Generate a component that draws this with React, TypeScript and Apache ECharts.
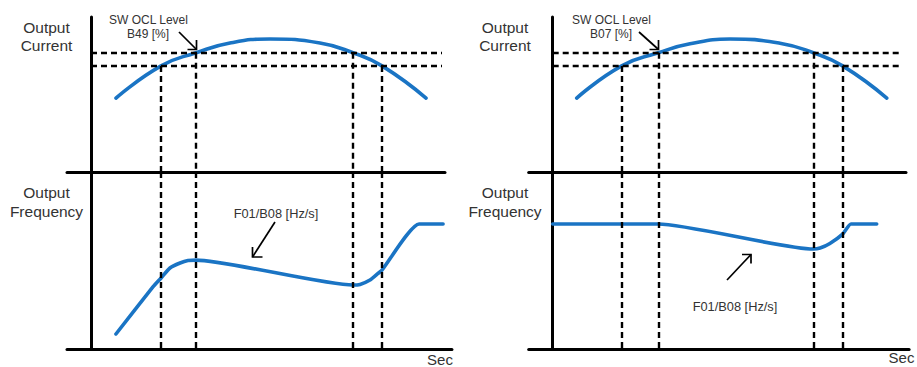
import React, { useEffect, useRef } from "react";
import * as echarts from "echarts";

// ---- data (time in arbitrary seconds, current in %, frequency in Hz) ----
const leftCurrentT = [1.04, 2.92, 4.375, 5.79, 7.46, 9.54, 10.92, 12.125, 13.96];
const leftCurrentA = [62, 89, 100, 108.2, 111.5, 108.2, 100, 89, 62];
const leftFreqT = [1.04, 2.58, 2.92, 3.29, 3.71, 4.04, 4.375, 10.92, 11.21, 11.625, 11.96, 12.125, 13.67, 14.67];
const leftFreqHz = [7.2, 29.8, 34.1, 38.9, 41.3, 42.5, 42.7, 30.7, 31.0, 33.1, 36.3, 37.9, 60, 60];

const rightCurrentT = [1.0, 2.875, 4.4, 5.72, 7.39, 9.47, 10.86, 12.08, 13.92];
const rightCurrentA = [62, 89, 100, 107.5, 111.5, 108, 100, 89, 62];
const rightFreqT = [0, 4.4, 10.86, 11.14, 11.55, 12.08, 12.43, 13.5];
const rightFreqHz = [60, 60, 48, 48.5, 50.7, 55.2, 60, 60];

const levels = [100, 89]; // SW OCL level, lower level
const leftCrossT = [2.92, 4.375, 10.92, 12.125];
const rightCrossT = [2.875, 4.4, 10.86, 12.08];
const crossLevel = [89, 100, 100, 89];
const leftDashEnd = 14.625;
const rightDashEnd = 14.54;

const currentMax = 130;
const freqMax = 85;
const xMin = -1;
const leftTopMax = 14.75;
const leftBottomMax = 15.04;
const rightTopMax = 14.72;
const rightBottomMax = 14.85;

const leftTitles = { top: ["Output", "Current"], bottom: ["Output", "Frequency"] };
const leftOcl = ["SW OCL Level", "B49 [%]"];
const rightOcl = ["SW OCL Level", "B07 [%]"];
const rampLabel = "F01/B08 [Hz/s]";
const secLabel = "Sec";

// ---- layout ----
const PX_PER_T = 24;
const TOP = 17;
const MID = 172;
const BOTTOM = 349;
const LEFT_ORIGIN = 91;
const RIGHT_ORIGIN = 552.7;
const BLUE = "#1a74c4";
const TEXT = "#333";
const FONT = '"Liberation Sans", Arial, sans-serif';

function buildOption() {
  const grids = [
    { left: LEFT_ORIGIN + xMin * PX_PER_T, top: TOP, width: (leftTopMax - xMin) * PX_PER_T, height: MID - TOP },
    { left: LEFT_ORIGIN + xMin * PX_PER_T, top: MID, width: (leftBottomMax - xMin) * PX_PER_T, height: BOTTOM - MID },
    { left: RIGHT_ORIGIN + xMin * PX_PER_T, top: TOP, width: (rightTopMax - xMin) * PX_PER_T, height: MID - TOP },
    { left: RIGHT_ORIGIN + xMin * PX_PER_T, top: MID, width: (rightBottomMax - xMin) * PX_PER_T, height: BOTTOM - MID },
  ];
  const axisLine = { show: true, onZero: true, lineStyle: { color: "#000", width: 3 } };
  const hidden = {
    axisTick: { show: false },
    axisLabel: { show: false },
    splitLine: { show: false },
  };
  const xMaxes = [leftTopMax, leftBottomMax, rightTopMax, rightBottomMax];
  const xAxis = xMaxes.map((mx, i) => ({
    type: "value",
    gridIndex: i,
    min: xMin,
    max: mx,
    axisLine,
    ...hidden,
  }));
  const yAxis = [0, 1, 2, 3].map((i) => ({
    type: "value",
    gridIndex: i,
    min: 0,
    max: i % 2 === 0 ? currentMax : freqMax,
    axisLine,
    ...hidden,
  }));

  const dash = { color: "#000", type: [6, 4], width: 2.4 };
  const ml = (data: any[]) => ({
    silent: true,
    symbol: ["none", "none"],
    label: { show: false },
    lineStyle: dash,
    emphasis: { disabled: true },
    animation: false,
    data,
  });
  const topMarks = (cross: number[], dashEnd: number) => [
    ...levels.map((lv) => [{ coord: [0, lv] }, { coord: [dashEnd, lv] }]),
    ...cross.map((t, k) => [{ coord: [t, crossLevel[k]] }, { coord: [t, 0] }]),
  ];
  const bottomMarks = (cross: number[]) => cross.map((t) => [{ coord: [t, freqMax] }, { coord: [t, 0] }]);

  const line = (idx: number, xs: number[], ys: number[], smooth: number, marks: any[]) => ({
    type: "line",
    xAxisIndex: idx,
    yAxisIndex: idx,
    data: xs.map((x, k) => [x, ys[k]]),
    symbol: "none",
    smooth,
    lineStyle: { color: BLUE, width: 3.6, cap: "round" },
    emphasis: { disabled: true },
    silent: true,
    z: 3,
    markLine: ml(marks),
  });

  const series = [
    line(0, leftCurrentT, leftCurrentA, 0.5, topMarks(leftCrossT, leftDashEnd)),
    line(1, leftFreqT, leftFreqHz, 0.18, bottomMarks(leftCrossT)),
    line(2, rightCurrentT, rightCurrentA, 0.5, topMarks(rightCrossT, rightDashEnd)),
    line(3, rightFreqT, rightFreqHz, 0.18, bottomMarks(rightCrossT)),
  ];

  const txt = (x: number, y: number, text: string, size: number) => ({
    type: "text",
    x,
    y,
    silent: true,
    style: { text, fill: TEXT, fontSize: size, fontFamily: FONT, align: "center", verticalAlign: "middle" },
  });
  const arrow = (x0: number, y0: number, x1: number, y1: number, w1: number[], w2: number[]) => [
    { type: "polyline", silent: true, shape: { points: [[x0, y0], [x1, y1]] }, style: { stroke: "#000", lineWidth: 1.7, fill: null } },
    { type: "polyline", silent: true, shape: { points: [w1, [x1, y1], w2] }, style: { stroke: "#000", lineWidth: 1.7, fill: null } },
  ];

  const graphic = [
    txt(46.5, 27, leftTitles.top[0], 15.5),
    txt(46.5, 45, leftTitles.top[1], 15.5),
    txt(46.5, 192, leftTitles.bottom[0], 15.5),
    txt(46.5, 211, leftTitles.bottom[1], 15.5),
    txt(505, 27, leftTitles.top[0], 15.5),
    txt(505, 45, leftTitles.top[1], 15.5),
    txt(505, 192, leftTitles.bottom[0], 15.5),
    txt(505, 211, leftTitles.bottom[1], 15.5),
    txt(148.5, 19.5, leftOcl[0], 12),
    txt(148, 33.5, leftOcl[1], 12),
    txt(611.5, 19.5, rightOcl[0], 12),
    txt(611, 33.5, rightOcl[1], 12),
    txt(276, 213, rampLabel, 12.8),
    txt(735, 306, rampLabel, 12.8),
    txt(440, 359, secLabel, 15),
    txt(901.5, 357, secLabel, 15),
    ...arrow(179, 32, 196.5, 49.5, [196.5, 40], [187.5, 49.5]),
    ...arrow(639, 32, 658.5, 49.5, [658.5, 40], [649.5, 49.5]),
    ...arrow(275, 222, 252.5, 257, [252.5, 247], [262.5, 257]),
    ...arrow(727, 280, 751, 254.5, [742, 254.5], [751, 263.5]),
  ];

  return {
    animation: false,
    backgroundColor: "#fff",
    grid: grids,
    xAxis,
    yAxis,
    series,
    graphic,
  };
}

export default function App() {
  const ref = useRef<HTMLDivElement>(null);
  useEffect(() => {
    if (!ref.current) return;
    const chart = echarts.init(ref.current, undefined, { renderer: "svg" });
    chart.setOption(buildOption() as any);
    return () => chart.dispose();
  }, []);
  return (
    <div
      ref={ref}
      style={{ position: "fixed", left: 0, top: 0, width: 917, height: 367, background: "#fff" }}
    />
  );
}
